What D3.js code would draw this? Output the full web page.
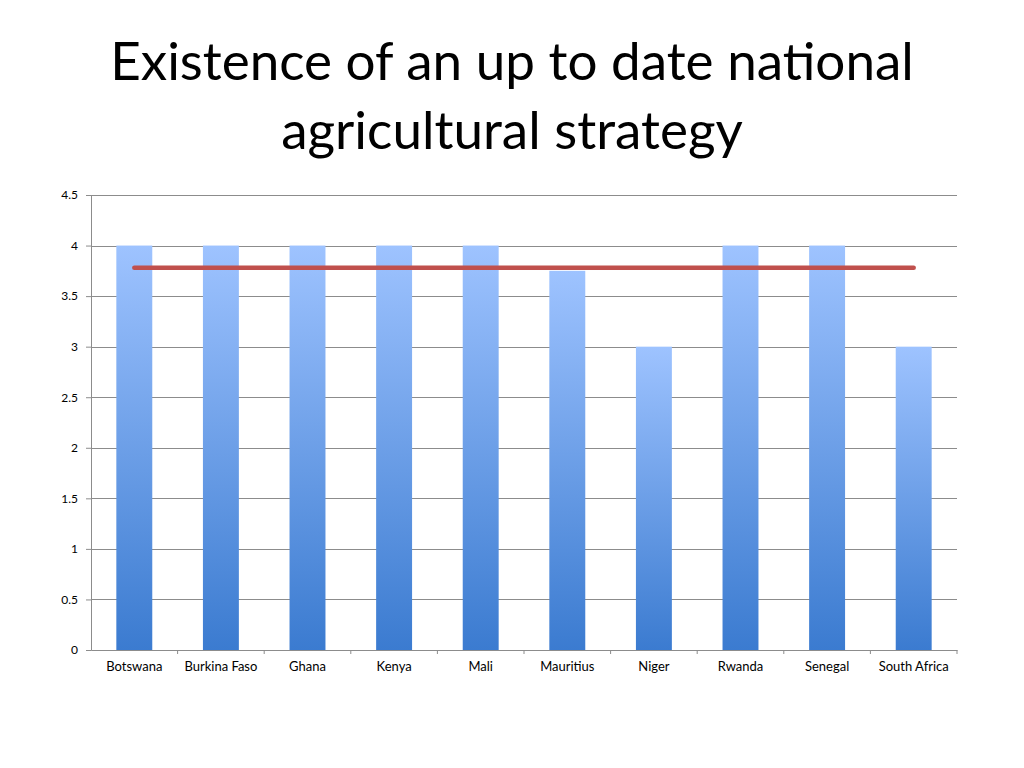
<!DOCTYPE html>
<html>
<head>
<meta charset="utf-8">
<script src="https://cdn.jsdelivr.net/npm/d3@7"></script>
<style>
  body { margin: 0; background: #fff; }
  svg { display: block; font-family: Lato, "Open Sans", sans-serif; }
</style>
</head>
<body>
<svg id="chart"></svg>
<script>
// data
var countries = ["Botswana", "Burkina Faso", "Ghana", "Kenya", "Mali", "Mauritius", "Niger", "Rwanda", "Senegal", "South Africa"];
var scores = [4, 4, 4, 4, 4, 3.75, 3, 4, 4, 3];
var average = [3.78, 3.78, 3.78, 3.78, 3.78, 3.78, 3.78, 3.78, 3.78, 3.78];
var yTicks = [0, 0.5, 1, 1.5, 2, 2.5, 3, 3.5, 4, 4.5];
var titleLines = ["Existence of an up to date national", "agricultural strategy"];

var W = 1024, H = 768;
var margin = {top: 195, right: 67, bottom: 118, left: 91},
    width = W - margin.left - margin.right,
    height = H - margin.top - margin.bottom;

var svg = d3.select("#chart")
    .attr("width", W)
    .attr("height", H);

// title
svg.selectAll(".title")
    .data(titleLines)
    .enter()
    .append("text")
    .attr("class", "title")
    .attr("x", W / 2)
    .attr("y", function(d, i) { return 80 + i * 69; })
    .attr("text-anchor", "middle")
    .style("font-size", "53px")
    .style("fill", "#000")
    .text(function(d) { return d; });

// bar gradient (light on top, darker blue at the bottom)
var grad = svg.append("defs").append("linearGradient")
    .attr("id", "barGrad")
    .attr("x1", 0).attr("y1", 0).attr("x2", 0).attr("y2", 1);
grad.append("stop").attr("offset", "0%").attr("stop-color", "#9ec3ff");
grad.append("stop").attr("offset", "100%").attr("stop-color", "#3b7bd0");

var x = d3.scaleBand()
    .domain(countries)
    .range([0, width])
    .paddingInner(0.585)
    .paddingOuter(0.2925);

var y = d3.scaleLinear()
    .domain([0, 4.5])
    .range([height, 0]);

var g = svg.append("g")
    .attr("transform", "translate(" + margin.left + "," + margin.top + ")");

// gridlines
g.selectAll(".grid")
    .data(yTicks.slice(1))
    .enter()
    .append("line")
    .attr("class", "grid")
    .attr("x1", 0)
    .attr("x2", width)
    .attr("y1", function(d) { return Math.round(y(d)) + 0.5; })
    .attr("y2", function(d) { return Math.round(y(d)) + 0.5; })
    .style("stroke", "#8c8c8c")
    .style("stroke-width", 1);

// y axis
var yAxis = g.append("g")
    .attr("class", "axis y-axis")
    .call(d3.axisLeft(y).tickValues(yTicks).tickSize(5).tickPadding(8)
        .tickFormat(function(d) { return String(d); }));
yAxis.select(".domain").style("stroke", "#8c8c8c");
yAxis.selectAll(".tick line").style("stroke", "#8c8c8c");
yAxis.selectAll("text").style("font-size", "12px").style("fill", "#000")
    .style("font-family", "Lato, sans-serif");

// x axis: ticks sit between categories
var xAxis = g.append("g")
    .attr("class", "axis x-axis")
    .attr("transform", "translate(0," + height + ")")
    .call(d3.axisBottom(x).tickSize(0).tickPadding(12));
xAxis.select(".domain").style("stroke", "#8c8c8c");
xAxis.selectAll("text").style("font-size", "13px").style("fill", "#000")
    .style("font-family", "Lato, sans-serif");
xAxis.selectAll(".sep")
    .data(countries)
    .enter()
    .append("line")
    .attr("class", "sep")
    .attr("x1", function(d) { return x(d) + x.bandwidth() / 2 + x.step() / 2; })
    .attr("x2", function(d) { return x(d) + x.bandwidth() / 2 + x.step() / 2; })
    .attr("y1", 0)
    .attr("y2", 4)
    .style("stroke", "#8c8c8c");

// bars
g.selectAll(".bar")
    .data(countries)
    .enter()
    .append("rect")
    .attr("class", "bar")
    .attr("x", function(d) { return x(d); })
    .attr("width", x.bandwidth())
    .attr("y", function(d, i) { return y(scores[i]); })
    .attr("height", function(d, i) { return height - y(scores[i]); })
    .style("fill", "url(#barGrad)");

// average line
var line = d3.line()
    .x(function(d, i) { return x(countries[i]) + x.bandwidth() / 2; })
    .y(function(d) { return y(d); });

g.append("path")
    .datum(average)
    .attr("d", line)
    .style("fill", "none")
    .style("stroke", "#c0504d")
    .style("stroke-width", 4.5)
    .style("stroke-linecap", "round");
</script>
</body>
</html>
